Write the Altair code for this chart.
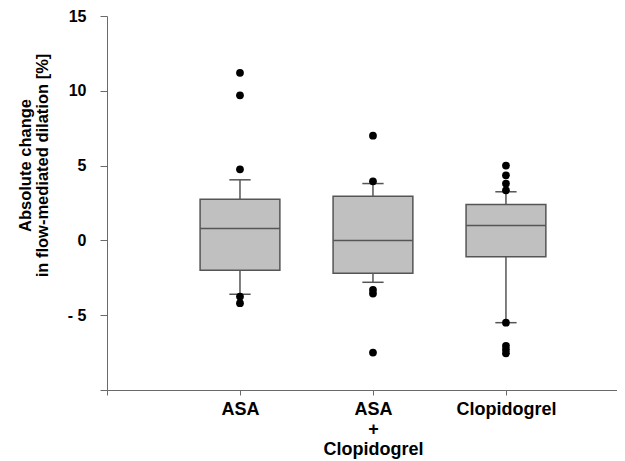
import json
import altair as alt
import pandas as pd

# ---- data ----
groups = ["ASA", "ASA + Clopidogrel", "Clopidogrel"]
group_lines = [["ASA"], ["ASA", "+", "Clopidogrel"], ["Clopidogrel"]]
q1 = [-2.0, -2.2, -1.1]
median = [0.8, 0.0, 1.0]
q3 = [2.75, 2.95, 2.4]
whisker_low = [-3.6, -2.8, -5.5]
whisker_high = [4.05, 3.8, 3.25]

outlier_group = (["ASA"] * 5 + ["ASA + Clopidogrel"] * 5 + ["Clopidogrel"] * 8)
outlier_value = [11.2, 9.7, 4.75, -3.75, -4.2,
                 7.0, 3.95, -3.3, -3.55, -7.5,
                 5.0, 4.35, 3.8, 3.35, -5.5, -7.05, -7.3, -7.55]

y_ticks = [-10, -5, 0, 5, 10, 15]
y_title = ["Absolute change", "in flow-mediated dilation [%]"]

# ---- tables ----
half_box = 0.3
half_cap = 0.08
boxes = pd.DataFrame({
    "group": groups,
    "pos": [i + 1 for i in range(len(groups))],
    "q1": q1, "median": median, "q3": q3,
    "wlo": whisker_low, "whi": whisker_high,
})
boxes["left"] = boxes["pos"] - half_box
boxes["right"] = boxes["pos"] + half_box
boxes["capl"] = boxes["pos"] - half_cap
boxes["capr"] = boxes["pos"] + half_cap

pts = pd.DataFrame({"group": outlier_group, "value": outlier_value})
pts["pos"] = pts["group"].map({g: i + 1 for i, g in enumerate(groups)})

FONT = "Liberation Sans"
GRAY = "#555555"
AX = "#6a6a6a"

# label expression for x axis
parts = []
for i, lines in enumerate(group_lines):
    val = json.dumps(lines if len(lines) > 1 else lines[0])
    parts.append(f"datum.value == {i + 1} ? {val} : ")
x_label_expr = "".join(parts) + "''"

xscale = alt.Scale(domain=[0, 3.835], nice=False, zero=False)
yscale = alt.Scale(domain=[-10, 15], nice=False, zero=False)

xaxis = alt.Axis(
    values=[0, 1, 2, 3], labelExpr=x_label_expr, title=None,
    grid=False, domainColor=AX, tickColor=AX, tickSize=5,
    labelPadding=5, labelFont=FONT, labelFontSize=18, labelFontWeight="bold",
    labelColor="black", labelLineHeight=20, labelBaseline="top",
)
yaxis = alt.Axis(
    values=y_ticks, title=y_title,
    labelExpr="datum.value == -10 ? '' : (datum.value < 0 ? '- ' + abs(datum.value) : datum.label)",
    grid=False, domainColor=AX, tickColor=AX, tickSize=7, labelPadding=14,
    labelFont=FONT, labelFontSize=16, labelFontWeight="bold", labelColor="black",
    titleFont=FONT, titleFontSize=16.5, titleFontWeight="bold", titleColor="black",
    titleAngle=-90, titleLineHeight=17, titleBaseline="top",
    titleX=-90, titleY=149, titleAlign="center",
)

base = alt.Chart(boxes)

whisk_hi = base.mark_rule(color=GRAY, strokeWidth=1.5).encode(
    x=alt.X("pos:Q", scale=xscale, axis=xaxis),
    y=alt.Y("q3:Q", scale=yscale, axis=yaxis),
    y2="whi:Q",
)
whisk_lo = base.mark_rule(color=GRAY, strokeWidth=1.5).encode(
    x=alt.X("pos:Q", scale=xscale, axis=xaxis),
    y=alt.Y("q1:Q", scale=yscale, axis=yaxis),
    y2="wlo:Q",
)
box = base.mark_rect(fill="#c0c0c0", stroke=GRAY, strokeWidth=1.5).encode(
    x=alt.X("left:Q", scale=xscale, axis=xaxis),
    x2="right:Q",
    y=alt.Y("q1:Q", scale=yscale, axis=yaxis),
    y2="q3:Q",
)
med = base.mark_rule(color=GRAY, strokeWidth=1.5).encode(
    x=alt.X("left:Q", scale=xscale, axis=xaxis),
    x2="right:Q",
    y=alt.Y("median:Q", scale=yscale, axis=yaxis),
)
cap_hi = base.mark_rule(color=GRAY, strokeWidth=1.5).encode(
    x=alt.X("capl:Q", scale=xscale, axis=xaxis),
    x2="capr:Q",
    y=alt.Y("whi:Q", scale=yscale, axis=yaxis),
)
cap_lo = base.mark_rule(color=GRAY, strokeWidth=1.5).encode(
    x=alt.X("capl:Q", scale=xscale, axis=xaxis),
    x2="capr:Q",
    y=alt.Y("wlo:Q", scale=yscale, axis=yaxis),
)
points = alt.Chart(pts).mark_circle(color="black", opacity=1, size=60).encode(
    x=alt.X("pos:Q", scale=xscale, axis=xaxis),
    y=alt.Y("value:Q", scale=yscale, axis=yaxis),
)

chart = alt.layer(whisk_hi, whisk_lo, box, med, cap_hi, cap_lo, points).properties(
    width=510, height=374,
    autosize=alt.AutoSizeParams(type="none"),
    padding={"left": 99, "top": 8, "right": 0, "bottom": 70},
).configure_view(stroke=None)

chart.save("out.html", embed_options={"renderer": "svg", "actions": False})
